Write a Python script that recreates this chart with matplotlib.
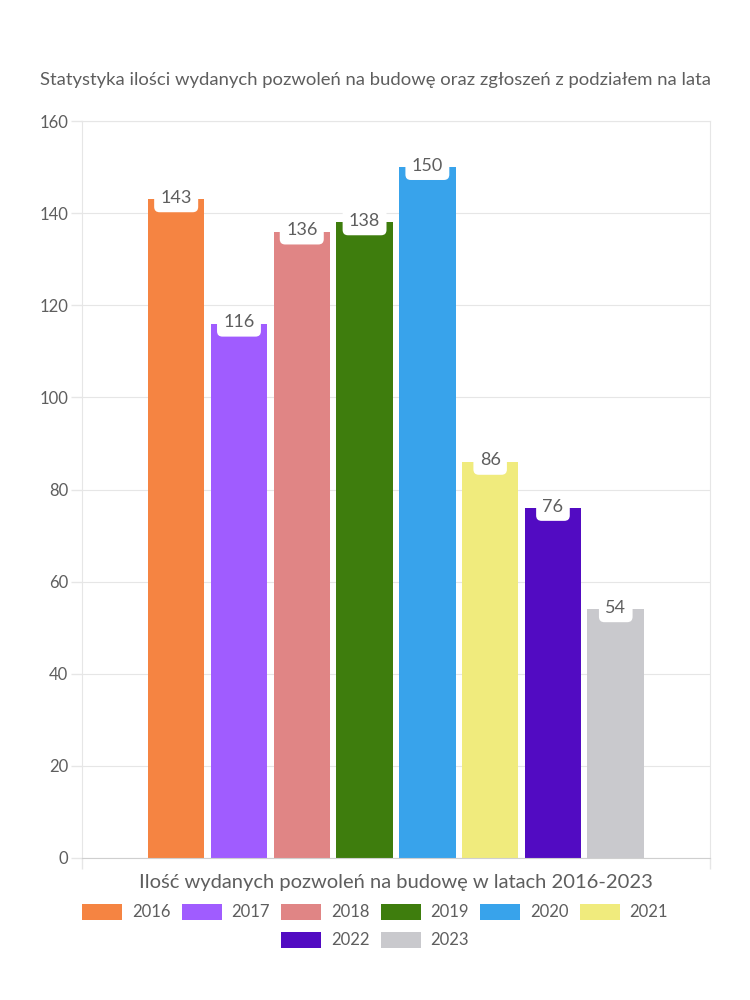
import numpy as np
import matplotlib
matplotlib.use("Agg")
import matplotlib.pyplot as plt
from matplotlib.patches import Patch

years = ["2016", "2017", "2018", "2019", "2020", "2021", "2022", "2023"]
values = [143, 116, 136, 138, 150, 86, 76, 54]
colors = ["#F58442", "#A05CFF", "#E08585", "#3E7D0D", "#38A3EB",
          "#F0EB7D", "#520BC2", "#C9C9CD"]
yticks = [0, 20, 40, 60, 80, 100, 120, 140, 160]

title = "Statystyka ilości wydanych pozwoleń na budowę oraz zgłoszeń z podziałem na lata"
xlabel = "Ilość wydanych pozwoleń na budowę w latach 2016-2023"

plt.rcParams['font.family'] = ['Lato', 'DejaVu Sans']
text_col = "#5e5e5e"
grid_col = "#e6e6e6"

fig = plt.figure(figsize=(7.5, 10), dpi=100)
ax = fig.add_axes([0.1093, 0.142, 0.8373, 0.737])

step = 0.1
width = 0.09
for i, (yr, v, c) in enumerate(zip(years, values, colors)):
    x = (i - 3.5) * step
    ax.bar(x, v, width=width, color=c, zorder=2)
    ax.annotate(str(v), (x, v), xytext=(0, 1), textcoords='offset points',
                ha='center', va='center', fontsize=13,
                color=text_col, zorder=3,
                bbox=dict(boxstyle="round,pad=0.35,rounding_size=0.3",
                          fc="white", ec="none"))

ax.set_xlim(-0.5, 0.5)
ax.set_ylim(0, 160)
ax.set_yticks(yticks)
ax.set_yticklabels([str(t) for t in yticks], fontsize=12, color=text_col)
ax.set_xticks([-0.5, 0.5])
ax.set_xticklabels(["", ""])
ax.tick_params(axis='both', color=grid_col, length=8, width=1)
ax.tick_params(axis='y', pad=2)
ax.grid(axis='y', color=grid_col, linewidth=0.8, zorder=0)
for sp in ax.spines.values():
    sp.set_color(grid_col)
ax.spines['bottom'].set_color("#cfcfcf")

ax.set_xlabel(xlabel, fontsize=14.5, color=text_col, labelpad=0)
fig.text(0.5, 0.92, title, ha='center', va='center', fontsize=13.3,
         color=text_col)

handles = [Patch(facecolor=c, edgecolor='none') for c in colors]
leg_kw = dict(loc='center', frameon=False, fontsize=12, handlelength=2.4,
              handleheight=1.08, columnspacing=0.66, handletextpad=0.6,
              borderaxespad=0, borderpad=0)
leg1 = fig.legend(handles[:6], years[:6], ncol=6,
                  bbox_to_anchor=(0.5, 0.088), **leg_kw)
leg2 = fig.legend(handles[6:], years[6:], ncol=2,
                  bbox_to_anchor=(0.5, 0.060), **leg_kw)
for leg in (leg1, leg2):
    for t in leg.get_texts():
        t.set_color(text_col)

fig.savefig("out.png", dpi=100)
